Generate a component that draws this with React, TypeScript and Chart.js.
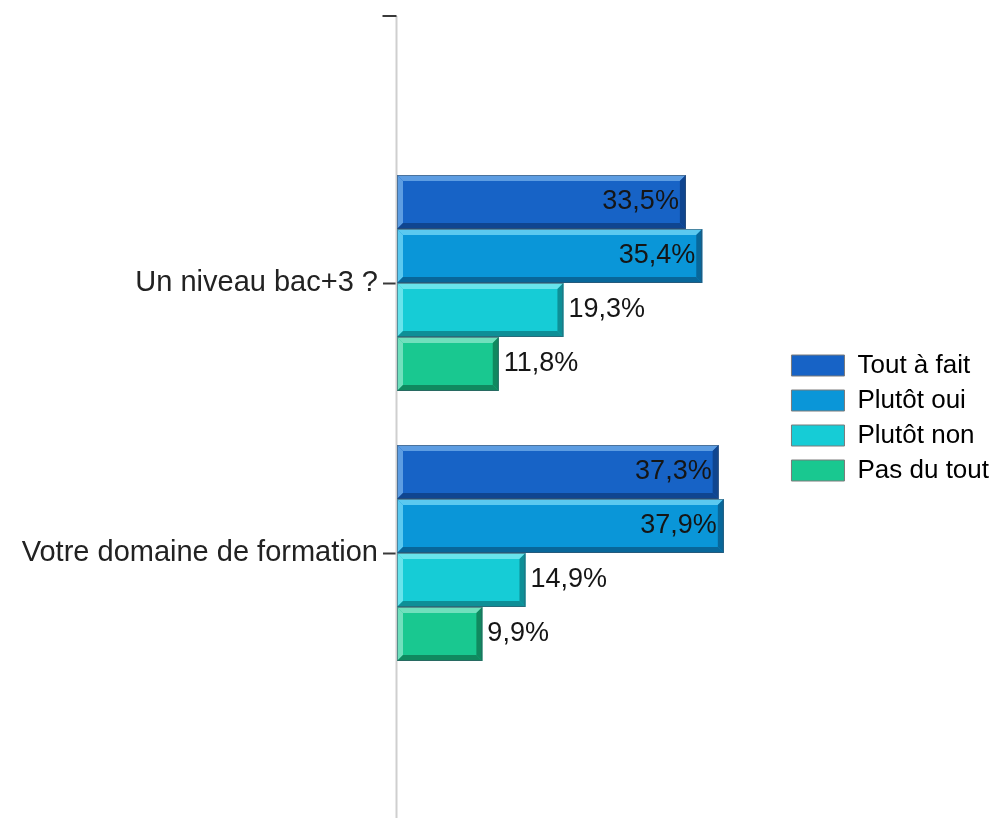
import React, { useEffect, useRef } from "react";
import { Chart, registerables } from "chart.js";

Chart.register(...registerables);

const categories = ["Un niveau bac+3 ?", "Votre domaine de formation"];
const seriesNames = ["Tout à fait", "Plutôt oui", "Plutôt non", "Pas du tout"];
const toutAFait = [33.5, 37.3];
const plutotOui = [35.4, 37.9];
const plutotNon = [19.3, 14.9];
const pasDuTout = [11.8, 9.9];

const faceColors = ["#1763c6", "#0a96d8", "#16ccd6", "#19c890"];
const lightColors = ["#5d9de2", "#5bc9f0", "#68e4ec", "#70e0bd"];
const darkColors = ["#0f4590", "#08679a", "#0e8f97", "#10895f"];

const FONT = "'Liberation Sans', Arial, sans-serif";

const fmt = (v: number) => v.toFixed(1).replace(".", ",") + "%";

const decoPlugin = {
  id: "deco",
  beforeDatasetsDraw(chart: any) {
    const { ctx, chartArea } = chart;
    const x = chartArea.left - 0.5;
    ctx.save();
    ctx.strokeStyle = "#cfcfcf";
    ctx.lineWidth = 2;
    ctx.beginPath();
    ctx.moveTo(x, 16);
    ctx.lineTo(x, 818);
    ctx.stroke();
    ctx.strokeStyle = "#3a3a3a";
    ctx.lineWidth = 2;
    ctx.beginPath();
    ctx.moveTo(x - 14, 16);
    ctx.lineTo(x, 16);
    ctx.stroke();
    ctx.restore();
  },
  afterDatasetsDraw(chart: any) {
    const { ctx } = chart;
    const b = 6;
    chart.data.datasets.forEach((ds: any, di: number) => {
      const meta = chart.getDatasetMeta(di);
      meta.data.forEach((el: any, i: number) => {
        const p = el.getProps(["x", "y", "base", "height"], true);
        const left = Math.min(p.base, p.x);
        const right = Math.max(p.base, p.x);
        const top = p.y - p.height / 2;
        const bottom = p.y + p.height / 2;
        ctx.save();
        // top
        ctx.fillStyle = lightColors[di];
        ctx.beginPath();
        ctx.moveTo(left, top);
        ctx.lineTo(right, top);
        ctx.lineTo(right - b, top + b);
        ctx.lineTo(left + b, top + b);
        ctx.closePath();
        ctx.fill();
        // left
        ctx.beginPath();
        ctx.moveTo(left, top);
        ctx.lineTo(left + b, top + b);
        ctx.lineTo(left + b, bottom - b);
        ctx.lineTo(left, bottom);
        ctx.closePath();
        ctx.fill();
        // bottom
        ctx.fillStyle = darkColors[di];
        ctx.beginPath();
        ctx.moveTo(left, bottom);
        ctx.lineTo(left + b, bottom - b);
        ctx.lineTo(right - b, bottom - b);
        ctx.lineTo(right, bottom);
        ctx.closePath();
        ctx.fill();
        // right
        ctx.beginPath();
        ctx.moveTo(right, top);
        ctx.lineTo(right, bottom);
        ctx.lineTo(right - b, bottom - b);
        ctx.lineTo(right - b, top + b);
        ctx.closePath();
        ctx.fill();
        // outline
        ctx.strokeStyle = "rgba(60,80,100,0.55)";
        ctx.lineWidth = 1;
        ctx.strokeRect(left + 0.5, top + 0.5, right - left - 1, bottom - top - 1);
        ctx.restore();

        // label
        const v = ds.data[i];
        ctx.save();
        ctx.font = `27px ${FONT}`;
        ctx.fillStyle = "#151515";
        ctx.textBaseline = "middle";
        if (v >= 30) {
          ctx.textAlign = "right";
          ctx.fillText(fmt(v), right - 7, p.y);
        } else {
          ctx.textAlign = "left";
          ctx.fillText(fmt(v), right + 5, p.y);
        }
        ctx.restore();
      });
    });
  },
};

export default function App() {
  const ref = useRef<HTMLCanvasElement | null>(null);
  useEffect(() => {
    if (!ref.current) return;
    const series = [toutAFait, plutotOui, plutotNon, pasDuTout];
    const chart = new Chart(ref.current, {
      type: "bar",
      data: {
        labels: categories,
        datasets: series.map((d, i) => ({
          label: seriesNames[i],
          data: d,
          backgroundColor: faceColors[i],
          borderWidth: 0,
          categoryPercentage: 0.8,
          barPercentage: 1.0,
        })),
      },
      options: {
        indexAxis: "y",
        animation: false,
        responsive: false,
        devicePixelRatio: 1,
        layout: { padding: { top: 148, bottom: 130, left: 0, right: 0 } },
        plugins: {
          tooltip: { enabled: false },
          legend: {
            position: "right",
            align: "center",
            labels: {
              boxWidth: 53,
              boxHeight: 21,
              padding: 9,
              color: "#222",
              font: { family: FONT, size: 26 },
              generateLabels: (ch: any) =>
                ch.data.datasets.map((ds: any, i: number) => ({
                  text: ds.label,
                  fillStyle: faceColors[i],
                  strokeStyle: "#7a7a7a",
                  lineWidth: 1,
                  hidden: false,
                  datasetIndex: i,
                })),
            },
          },
        },
        scales: {
          x: { display: false, min: 0, max: 44.7 },
          y: {
            afterFit: (scale: any) => {
              scale.width = 397;
            },
            border: { display: false },
            grid: {
              offset: false,
              drawOnChartArea: false,
              drawTicks: true,
              tickLength: 14,
              tickColor: "#3a3a3a",
              tickWidth: 2,
            },
            ticks: {
              padding: 5,
              color: "#222",
              font: { family: FONT, size: 29 },
            },
          },
        },
      },
      plugins: [decoPlugin],
    } as any);
    return () => chart.destroy();
  }, []);
  return (
    <div style={{ position: "absolute", left: 0, top: 0, width: 999, height: 818, background: "#fff" }}>
      <canvas ref={ref} width={999} height={818} style={{ display: "block" }} />
    </div>
  );
}
